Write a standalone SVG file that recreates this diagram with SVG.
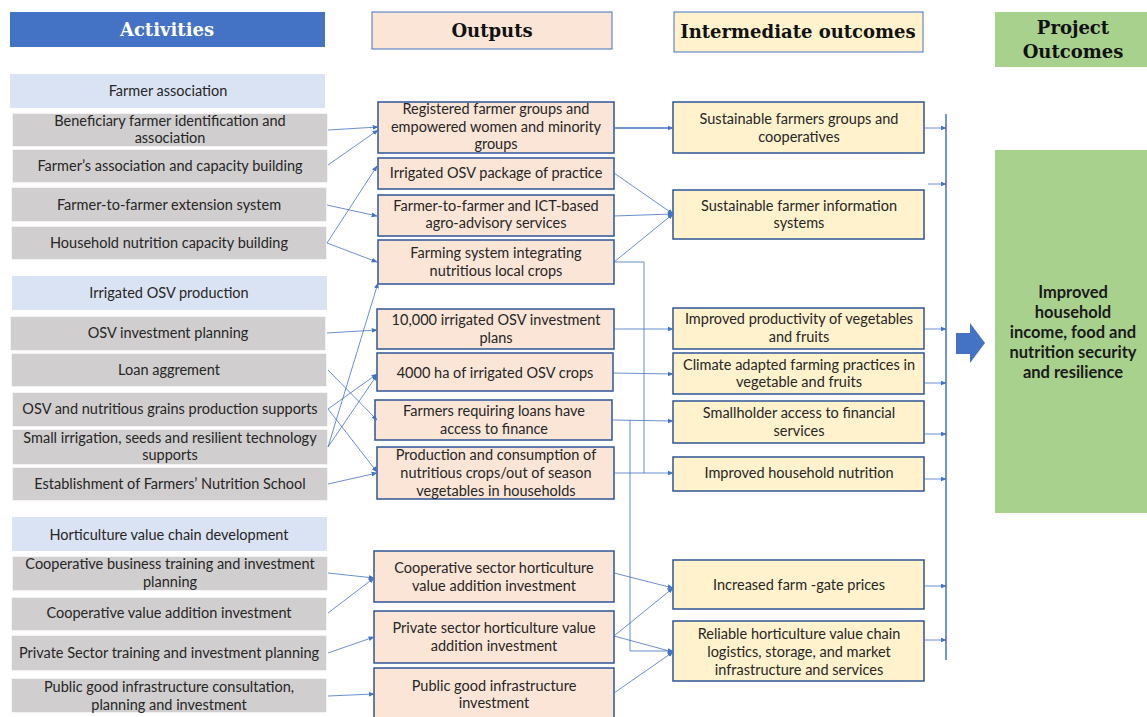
<svg xmlns="http://www.w3.org/2000/svg" width="1147" height="717" viewBox="0 0 1147 717">
<defs>
<marker id="ah" viewBox="0 0 10 10" refX="9" refY="5" markerWidth="6" markerHeight="6" markerUnits="userSpaceOnUse" orient="auto">
<path d="M0,1 L10,5 L0,9 z" fill="#4472C4"/>
</marker>
<style>
.hdr{font-family:"DejaVu Serif",serif;font-weight:bold;font-size:18px;text-anchor:middle;dominant-baseline:central}
.t{font-family:Lato,"Liberation Sans",sans-serif;font-size:14.5px;fill:#262626;text-anchor:middle;dominant-baseline:central}
.act{fill:#D0CECE;stroke:#ffffff;stroke-width:1.5}
.cat{fill:#DAE3F3}
.out{fill:#FBE5D6;stroke:#2F5597;stroke-width:1.5}
.imd{fill:#FFF2CC;stroke:#2F5597;stroke-width:1.5}
.c{fill:none;stroke:#4472C4;stroke-width:0.8}
.cm{fill:none;stroke:#4472C4;stroke-width:0.8;marker-end:url(#ah)}
.big{font-family:Lato,"Liberation Sans",sans-serif;font-weight:bold;font-size:16.5px;fill:#1a1a1a;text-anchor:middle;dominant-baseline:central}
</style>
</defs>
<rect width="1147" height="717" fill="#ffffff"/>

<!-- headers -->
<g id="hdr-activities"><rect x="10" y="12" width="315" height="35" fill="#4472C4"/><text class="hdr" x="167" y="29" fill="#ffffff">Activities</text></g>
<g id="hdr-outputs"><rect x="372" y="12" width="240" height="37" fill="#FBE5D6" stroke="#4472C4" stroke-width="1"/><text class="hdr" x="492" y="30" fill="#111">Outputs</text></g>
<g id="hdr-intermediate"><rect x="674" y="12" width="249" height="40" fill="#FFF2CC" stroke="#4472C4" stroke-width="1"/><text class="hdr" x="798" y="31.5" fill="#111">Intermediate outcomes</text></g>
<g id="hdr-project"><rect x="995" y="12" width="152" height="55" fill="#A9D18E"/><text class="hdr" x="1073" y="27.5" fill="#111">Project</text><text class="hdr" x="1073" y="51.5" fill="#111">Outcomes</text></g>

<!-- activities -->
<g id="a-cat1"><rect class="cat" x="10" y="74" width="315" height="34"/><text class="t" x="168" y="90.5">Farmer association</text></g>
<g id="a1"><rect class="act" x="12" y="113" width="316" height="34"/><text class="t" x="170" y="120.5">Beneficiary farmer identification and</text><text class="t" x="170" y="137.5">association</text></g>
<g id="a2"><rect class="act" x="12" y="149" width="316" height="34"/><text class="t" x="170" y="165.5">Farmer’s association and capacity building</text></g>
<g id="a3"><rect class="act" x="11" y="187" width="316" height="35"/><text class="t" x="169" y="204.5">Farmer-to-farmer extension system</text></g>
<g id="a4"><rect class="act" x="11" y="226" width="316" height="34"/><text class="t" x="169" y="242.5">Household nutrition capacity building</text></g>
<g id="a-cat2"><rect class="cat" x="12" y="276" width="315" height="34"/><text class="t" x="169" y="292.5">Irrigated OSV production</text></g>
<g id="a5"><rect class="act" x="10" y="316" width="316" height="35"/><text class="t" x="168" y="332.5">OSV investment planning</text></g>
<g id="a6"><rect class="act" x="11" y="353" width="316" height="34"/><text class="t" x="169" y="369.5">Loan aggrement</text></g>
<g id="a7"><rect class="act" x="12" y="392" width="316" height="35"/><text class="t" x="170" y="408.5">OSV and nutritious grains production supports</text></g>
<g id="a8"><rect class="act" x="12" y="429" width="316" height="36"/><text class="t" x="170" y="437.5">Small irrigation, seeds and resilient technology</text><text class="t" x="170" y="454.5">supports</text></g>
<g id="a9"><rect class="act" x="12" y="467" width="316" height="34"/><text class="t" x="170" y="483.5">Establishment of Farmers’ Nutrition School</text></g>
<g id="a-cat3"><rect class="cat" x="12" y="517" width="315" height="34"/><text class="t" x="169" y="534.5">Horticulture value chain development</text></g>
<g id="a10"><rect class="act" x="12" y="556" width="316" height="35"/><text class="t" x="170" y="563.5">Cooperative business training and investment</text><text class="t" x="170" y="581.5">planning</text></g>
<g id="a11"><rect class="act" x="11" y="597" width="316" height="34"/><text class="t" x="169" y="612.5">Cooperative value addition investment</text></g>
<g id="a12"><rect class="act" x="11" y="635" width="316" height="36"/><text class="t" x="169" y="652.5">Private Sector training and investment planning</text></g>
<g id="a13"><rect class="act" x="11" y="678" width="316" height="35"/><text class="t" x="169" y="686.5">Public good infrastructure consultation,</text><text class="t" x="169" y="704.5">planning and investment</text></g>

<!-- outputs -->
<g id="o1"><rect class="out" x="378" y="102" width="236" height="51"/><text class="t" x="496" y="108.5">Registered farmer groups and</text><text class="t" x="496" y="126.5">empowered women and minority</text><text class="t" x="496" y="143.5">groups</text></g>
<g id="o2"><rect class="out" x="378" y="158" width="236" height="31"/><text class="t" x="496" y="172.5">Irrigated OSV package of practice</text></g>
<g id="o3"><rect class="out" x="378" y="195" width="236" height="41"/><text class="t" x="496" y="205.5">Farmer-to-farmer and ICT-based</text><text class="t" x="496" y="222.5">agro-advisory services</text></g>
<g id="o4"><rect class="out" x="378" y="240" width="236" height="44"/><text class="t" x="496" y="252.5">Farming system integrating</text><text class="t" x="496" y="270.5">nutritious local crops</text></g>
<g id="o5"><rect class="out" x="377" y="309" width="237" height="40"/><text class="t" x="496" y="319.5">10,000 irrigated OSV investment</text><text class="t" x="496" y="337.5">plans</text></g>
<g id="o6"><rect class="out" x="377" y="353" width="236" height="38"/><text class="t" x="495" y="372.5">4000 ha of irrigated OSV crops</text></g>
<g id="o7"><rect class="out" x="375" y="400" width="237" height="40"/><text class="t" x="494" y="410.5">Farmers requiring loans have</text><text class="t" x="494" y="428.5">access to finance</text></g>
<g id="o8"><rect class="out" x="377" y="447" width="237" height="52"/><text class="t" x="496" y="454.5">Production and consumption of</text><text class="t" x="496" y="472.5">nutritious crops/out of season</text><text class="t" x="496" y="490.5">vegetables in households</text></g>
<g id="o9"><rect class="out" x="374" y="551" width="240" height="51"/><text class="t" x="494" y="567.5">Cooperative sector horticulture</text><text class="t" x="494" y="585.5">value addition investment</text></g>
<g id="o10"><rect class="out" x="374" y="611" width="240" height="52"/><text class="t" x="494" y="627.5">Private sector horticulture value</text><text class="t" x="494" y="645.5">addition investment</text></g>
<g id="o11"><rect class="out" x="374" y="668" width="240" height="52"/><text class="t" x="494" y="685.5">Public good infrastructure</text><text class="t" x="494" y="702.5">investment</text></g>

<!-- intermediate outcomes -->
<g id="i1"><rect class="imd" x="673" y="102" width="251" height="51"/><text class="t" x="799" y="118.5">Sustainable farmers groups and</text><text class="t" x="799" y="136.5">cooperatives</text></g>
<g id="i2"><rect class="imd" x="673" y="190" width="251" height="49"/><text class="t" x="799" y="205.5">Sustainable farmer information</text><text class="t" x="799" y="222.5">systems</text></g>
<g id="i3"><rect class="imd" x="673" y="308" width="251" height="41"/><text class="t" x="799" y="318.5">Improved productivity of vegetables</text><text class="t" x="799" y="336.5">and fruits</text></g>
<g id="i4"><rect class="imd" x="673" y="353" width="251" height="41"/><text class="t" x="799" y="364.5">Climate adapted farming practices in</text><text class="t" x="799" y="381.5">vegetable and fruits</text></g>
<g id="i5"><rect class="imd" x="673" y="401" width="251" height="42"/><text class="t" x="799" y="412.5">Smallholder access to financial</text><text class="t" x="799" y="430.5">services</text></g>
<g id="i6"><rect class="imd" x="673" y="457" width="251" height="34"/><text class="t" x="799" y="472.5">Improved household nutrition</text></g>
<g id="i7"><rect class="imd" x="673" y="560" width="251" height="49"/><text class="t" x="799" y="584.5">Increased farm -gate prices</text></g>
<g id="i8"><rect class="imd" x="673" y="621" width="251" height="60"/><text class="t" x="799" y="633.5">Reliable horticulture value chain</text><text class="t" x="799" y="651.5">logistics, storage, and market</text><text class="t" x="799" y="669.5">infrastructure and services</text></g>

<!-- project outcome -->
<g id="project-outcome"><rect x="995" y="150" width="152" height="363" fill="#A9D18E"/><text class="big" x="1073" y="292">Improved</text><text class="big" x="1073" y="312">household</text><text class="big" x="1073" y="332">income, food and</text><text class="big" x="1073" y="352">nutrition security</text><text class="big" x="1073" y="372">and resilience</text></g>
<g id="block-arrow"><path d="M956,333 H970 V323 L985,343 L970,363 V354 H956 Z" fill="#4472C4"/></g>

<!-- connectors -->
<g id="connectors">
<path class="cm" d="M328,130 L378,127"/>
<path class="cm" d="M328,165 L378,130"/>
<path class="cm" d="M327,205 L377,216"/>
<path class="cm" d="M327,243 L377,166"/>
<path class="cm" d="M327,243 L377,262"/>
<path class="cm" d="M327,333 L377,330"/>
<path class="cm" d="M328,370 L377,420"/>
<path class="cm" d="M328,409 L377,374"/>
<path class="cm" d="M328,409 L377,472"/>
<path class="cm" d="M328,447 L377,375"/>
<path class="cm" d="M328,447 L378,283"/>
<path class="cm" d="M328,484 L377,473"/>
<path class="cm" d="M328,573 L374,578"/>
<path class="cm" d="M328,613 L374,578"/>
<path class="cm" d="M328,653 L374,637"/>
<path class="cm" d="M328,696 L374,694"/>

<path class="cm" d="M614,128 L673,128" style="stroke-width:1.3"/>
<path class="cm" d="M614,173 L673,214"/>
<path class="cm" d="M614,216 L673,214"/>
<path class="cm" d="M614,262 L673,214"/>
<path class="c" d="M614,262 H644 V473"/>
<path class="cm" d="M614,329 L673,329"/>
<path class="cm" d="M613,373 L673,374"/>
<path class="cm" d="M612,420 L673,421"/>
<path class="cm" d="M630,420 V651 H673"/>
<path class="cm" d="M614,473 L673,473"/>
<path class="cm" d="M614,573 L673,588"/>
<path class="cm" d="M614,636 L673,588"/>
<path class="cm" d="M614,636 L673,652"/>
<path class="cm" d="M614,693 L673,652"/>

<path d="M946,114 V660" fill="none" stroke="#4472C4" stroke-width="1.5"/>
<path class="cm" d="M924,128 L946,128"/>
<path class="cm" d="M928,184 L946,184"/>
<path class="cm" d="M924,329 L946,329"/>
<path class="cm" d="M924,383 L946,383"/>
<path class="cm" d="M924,434 L946,434"/>
<path class="cm" d="M924,479 L946,479"/>
<path class="cm" d="M924,586 L946,586"/>
<path class="cm" d="M924,640 L946,640"/>
</g>
</svg>
